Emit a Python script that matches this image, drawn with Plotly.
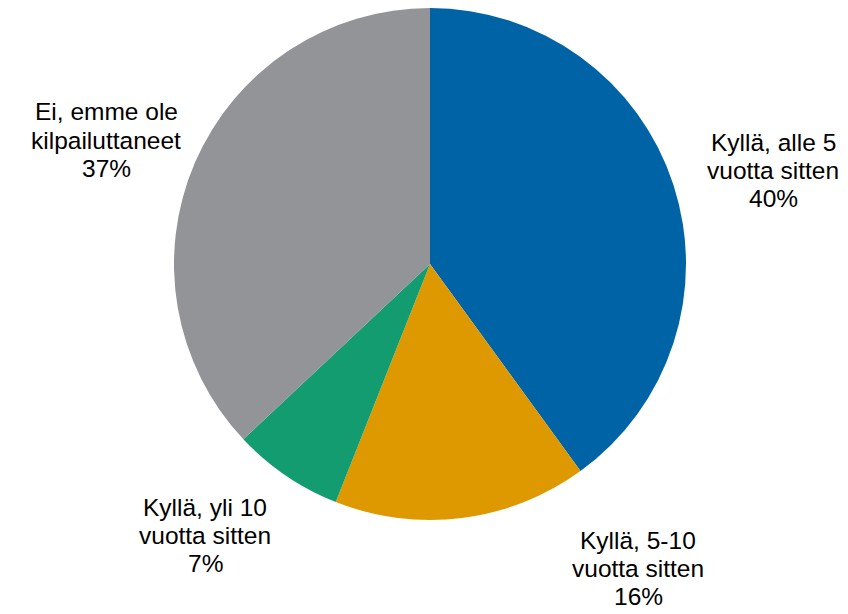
import plotly.graph_objects as go

labels = ["Kyllä, alle 5 vuotta sitten", "Kyllä, 5-10 vuotta sitten",
          "Kyllä, yli 10 vuotta sitten", "Ei, emme ole kilpailuttaneet"]
label_lines = [["Kyllä, alle 5", "vuotta sitten"], ["Kyllä, 5-10", "vuotta sitten"],
               ["Kyllä, yli 10", "vuotta sitten"], ["Ei, emme ole", "kilpailuttaneet"]]
values = [40, 16, 7, 37]
colors = ["#0063A5", "#DE9900", "#129C70", "#939498"]

W, H = 848, 614
# label centre positions in pixels (layout): x centre, y of middle line
label_pos = [(765, 162), (630, 560), (197, 527), (98, 132)]
line_gap = 28

fig = go.Figure(go.Pie(
    labels=labels, values=values, sort=False, direction="clockwise", rotation=0,
    marker=dict(colors=colors, line=dict(width=0)), textinfo="none",
    hoverinfo="label+percent", showlegend=False,
    domain=dict(x=[166 / W, 678 / W], y=[1 - 512 / H, 1 - 0 / H]),
))

for lines, v, (px, py) in zip(label_lines, values, label_pos):
    rows = lines + [f"{v}%"]
    for i, row in enumerate(rows):
        yy = py + (i - 1) * line_gap
        fig.add_annotation(
            text=row, x=px / W, y=1 - yy / H, xref="paper", yref="paper",
            xanchor="center", yanchor="middle", showarrow=False, align="center",
            borderpad=0,
            font=dict(family="Liberation Sans, Arial, sans-serif", size=24.5, color="#000000"),
        )

fig.update_layout(width=W, height=H, margin=dict(l=0, r=0, t=0, b=0),
                  paper_bgcolor="white", plot_bgcolor="white")
fig.write_html("out.html")
